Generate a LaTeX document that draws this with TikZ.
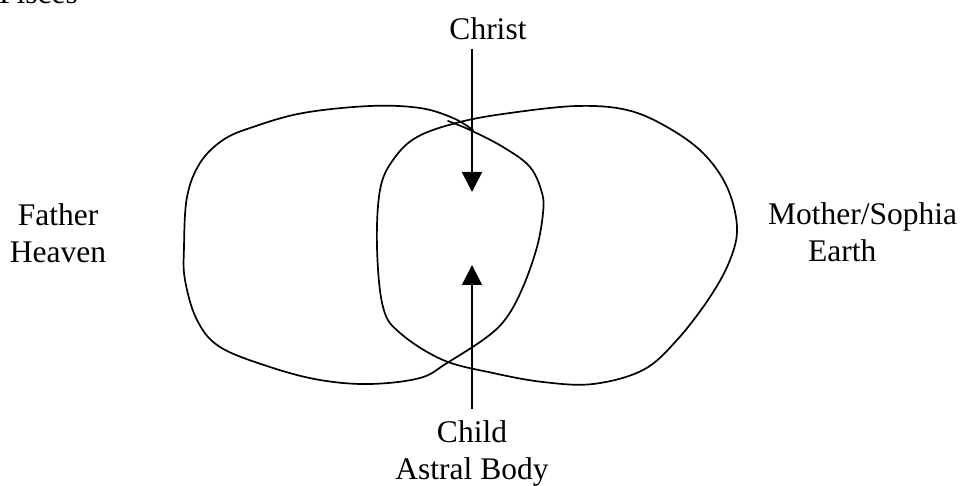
\documentclass[tikz,border=0pt]{standalone}
\usepackage{fontspec}
\setmainfont{Liberation Serif}
\usetikzlibrary{arrows.meta}

\begin{document}
\begin{tikzpicture}[x=1pt,y=-1pt,>={Triangle[length=20pt,width=20pt]},
    lbl/.style={font=\fontsize{31.5}{37}\selectfont,inner sep=0pt,anchor=base},
    blob/.style={line width=1.7pt,line join=round,line cap=round},
    flow/.style={->,line width=1.9pt}]
  \useasboundingbox (0,0) rectangle (962,486);

  % the two overlapping regions
  \draw[blob] plot[smooth,tension=0.6] coordinates {
    (448,121) (470,130) (503,147) (530,167) (542,193) (543,213) (537,247)
    (523,287) (507,317) (487,337) (447,363) (420,378) (370,384) (320,380)
    (270,367) (220,347) (197,320) (185,280) (184,247) (187,197) (200,163)
    (223,140) (253,127) (303,113) (370,106) (420,108) (453,118) (473,130)};
  \draw[blob] plot[smooth cycle,tension=0.6] coordinates {
    (377,247) (380,190) (393,160) (417,137) (460,122) (510,113) (577,106)
    (627,110) (667,127) (703,153) (727,187) (737,227) (730,260) (710,297)
    (677,340) (643,370) (593,384) (543,382) (493,373) (443,360) (400,333)
    (383,307)};

  % labels (base = last line)
  \node[lbl,anchor=base west] (pisces) at (-1,4) {Pisces};
  \node[lbl] (christ) at (488,40) {Christ};
  \node[lbl,align=center] (father) at (58,263) {Father\\Heaven};
  \node[lbl,align=left,anchor=base west] (mother) at (768,262)
    {Mother/Sophia\\\hspace*{40pt}Earth};
  \node[lbl,align=center] (child) at (472,479) {Child\\Astral Body};

  % arrows into the middle
  \coordinate (ctip) at (472,192);
  \coordinate (btip) at (472,265);
  \draw[flow] ([yshift=-8pt]christ.south -| ctip) -- (ctip);
  \draw[flow] ([yshift=11pt]child.north -| btip) -- (btip);
\end{tikzpicture}
\end{document}
